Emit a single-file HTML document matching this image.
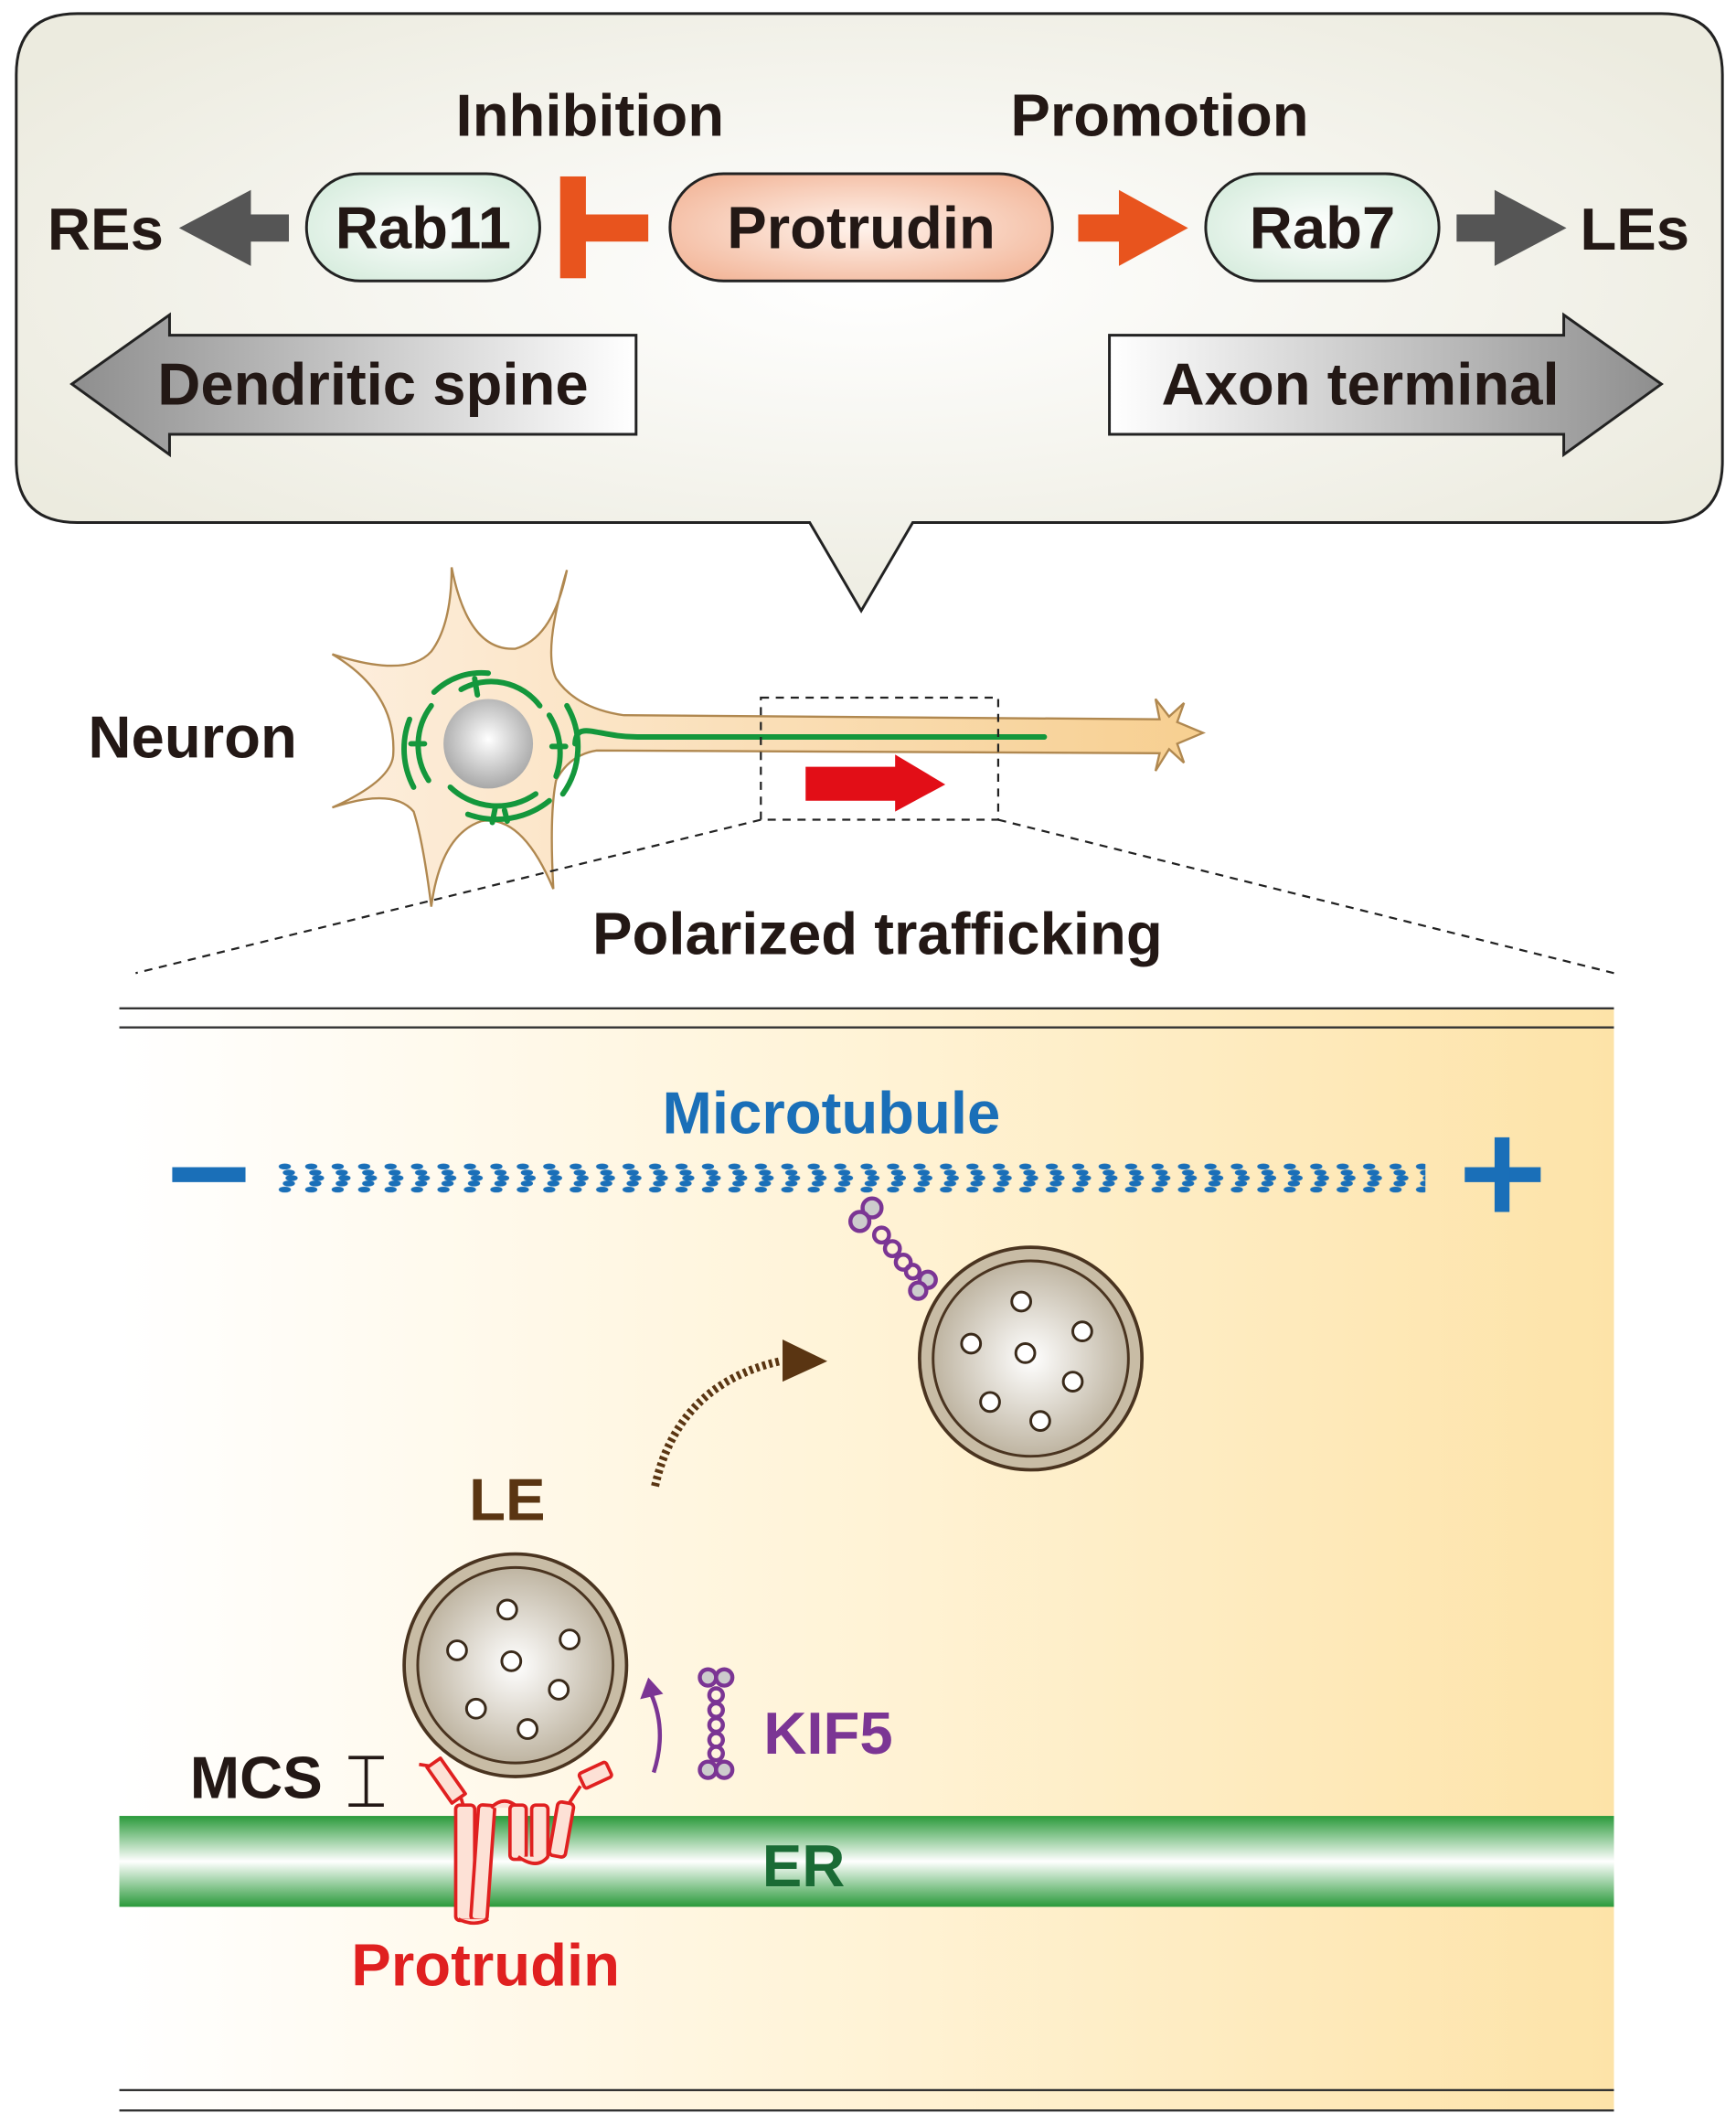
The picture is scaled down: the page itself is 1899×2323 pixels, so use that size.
<!DOCTYPE html>
<html><head><meta charset="utf-8"><style>html,body{margin:0;padding:0;background:#fff}svg{display:block}</style></head><body>
<svg width="1899" height="2323" viewBox="0 0 1280 1565" preserveAspectRatio="none" xmlns="http://www.w3.org/2000/svg" font-family="Liberation Sans, Arial, sans-serif" font-weight="bold">
<defs>
<radialGradient id="bg1" cx="0.5" cy="0.45" r="0.6"><stop offset="0" stop-color="#ffffff"/><stop offset="1" stop-color="#ecebdf"/></radialGradient>
<radialGradient id="gp" cx="0.5" cy="0.5" r="0.6"><stop offset="0" stop-color="#ffffff"/><stop offset="1" stop-color="#d6ecdd"/></radialGradient>
<radialGradient id="pp" cx="0.5" cy="0.5" r="0.6"><stop offset="0" stop-color="#fff3ec"/><stop offset="1" stop-color="#f3b89c"/></radialGradient>
<linearGradient id="ga" x1="0" x2="1"><stop offset="0" stop-color="#8e8e8e"/><stop offset="1" stop-color="#ffffff"/></linearGradient>
<linearGradient id="gb" x1="1" x2="0"><stop offset="0" stop-color="#8e8e8e"/><stop offset="1" stop-color="#ffffff"/></linearGradient>
<linearGradient id="cyt" x1="0" x2="1"><stop offset="0" stop-color="#ffffff"/><stop offset="0.5" stop-color="#fff3d6"/><stop offset="1" stop-color="#fde3a8"/></linearGradient>
<linearGradient id="er" x1="0" y1="0" x2="0" y2="1"><stop offset="0" stop-color="#2a9a3a"/><stop offset="0.5" stop-color="#ffffff"/><stop offset="1" stop-color="#2a9a3a"/></linearGradient>
<radialGradient id="ves" cx="0.5" cy="0.5" r="0.55"><stop offset="0" stop-color="#ffffff"/><stop offset="1" stop-color="#b8ad98"/></radialGradient>
<radialGradient id="nuc" cx="0.5" cy="0.45" r="0.55"><stop offset="0" stop-color="#ffffff"/><stop offset="1" stop-color="#a8a8a8"/></radialGradient>
<linearGradient id="axon" x1="0" x2="1"><stop offset="0" stop-color="#fdeedd"/><stop offset="1" stop-color="#f7cf90"/></linearGradient>
<pattern id="mt" x="205" y="857" width="19.5" height="22" patternUnits="userSpaceOnUse">
<g fill="#1a6fb8"><ellipse cx="5" cy="2.5" rx="4.5" ry="2.2"/><ellipse cx="8" cy="7" rx="4.5" ry="2.2"/><ellipse cx="10" cy="11" rx="4.5" ry="2.2"/><ellipse cx="8" cy="15" rx="4.5" ry="2.2"/><ellipse cx="5" cy="19.5" rx="4.5" ry="2.2"/></g>
</pattern>
</defs>

<path d="M57,10 H1225 Q1270,10 1270,55 V340 Q1270,385 1225,385 H673 L635,450 L597,385 H57 Q12,385 12,340 V55 Q12,10 57,10 Z" fill="url(#bg1)" stroke="#222" stroke-width="2"/>
<text x="435" y="100" font-size="44" text-anchor="middle" fill="#231815">Inhibition</text>
<text x="855" y="100" font-size="44" text-anchor="middle" fill="#231815">Promotion</text>
<text x="35" y="184" font-size="44" fill="#231815">REs</text>
<text x="1165" y="184" font-size="44" fill="#231815">LEs</text>
<polygon points="213,158 185,158 185,140 132,168 185,196 185,178 213,178" fill="#555"/>
<polygon points="1074,158 1102,158 1102,140 1155,168 1102,196 1102,178 1074,178" fill="#555"/>
<polygon points="795,158 825,158 825,140 876,168 825,196 825,178 795,178" fill="#e8541e"/>
<rect x="413" y="130" width="19" height="75" fill="#e8541e"/><rect x="430" y="158" width="48" height="20" fill="#e8541e"/>
<rect x="226" y="128" width="172" height="79" rx="39.5" fill="url(#gp)" stroke="#222" stroke-width="2"/>
<text x="312" y="183" font-size="44" text-anchor="middle" fill="#231815">Rab11</text>
<rect x="494" y="128" width="282" height="79" rx="39.5" fill="url(#pp)" stroke="#222" stroke-width="2"/>
<text x="635" y="183" font-size="44" text-anchor="middle" fill="#231815">Protrudin</text>
<rect x="889" y="128" width="172" height="79" rx="39.5" fill="url(#gp)" stroke="#222" stroke-width="2"/>
<text x="975" y="183" font-size="44" text-anchor="middle" fill="#231815">Rab7</text>
<polygon points="469,247 125,247 125,232 53,283 125,335 125,320 469,320" fill="url(#ga)" stroke="#222" stroke-width="2"/>
<text x="275" y="298" font-size="44" text-anchor="middle" fill="#231815">Dendritic spine</text>
<polygon points="818,247 1153,247 1153,232 1225,283 1153,335 1153,320 818,320" fill="url(#gb)" stroke="#222" stroke-width="2"/>
<text x="1003" y="298" font-size="44" text-anchor="middle" fill="#231815">Axon terminal</text>

<text x="65" y="558" font-size="44" fill="#231815">Neuron</text>
<path d="M333,418 Q345,480 380,478 Q408,470 418,420 Q400,480 410,500 Q425,522 460,527 L855,530 L852,515 L862,528 L873,518 L868,532 L887,540 L868,548 L873,562 L862,552 L852,568 L855,555 L440,553 Q420,556 410,575 Q405,600 408,655 Q385,600 355,605 Q325,615 318,668 Q312,620 305,598 Q290,580 245,595 Q290,575 290,555 Q292,510 245,482 Q300,500 318,480 Q333,460 333,418 Z" fill="url(#axon)" stroke="#b08850" stroke-width="1.6"/>
<circle cx="360" cy="548" r="33" fill="url(#nuc)"/>
<g fill="none" stroke="#14973c" stroke-width="4" stroke-linecap="round">
<path d="M424,548 C425,530 440,543 470,543 L770,543"/>
<path d="M340,508 A45,45 0 0,1 398,520"/><path d="M320,510 A50,50 0 0,1 360,496"/>
<path d="M318,520 A48,48 0 0,0 316,575"/><path d="M302,530 A60,60 0 0,0 305,580"/>
<path d="M405,527 A52,52 0 0,1 410,572"/><path d="M418,520 A60,60 0 0,1 415,585"/>
<path d="M332,580 A50,50 0 0,0 395,585"/><path d="M345,600 A62,62 0 0,0 405,590"/>
<path d="M350,500 L352,512 M313,548 L303,548 M407,550 L417,550 M372,597 L374,605 M365,596 L363,606"/>
</g>
<rect x="561" y="514" width="175" height="90" fill="none" stroke="#222" stroke-width="1.5" stroke-dasharray="6,5"/>
<polygon points="594,565 660,565 660,556 697,578 660,598 660,590 594,590" fill="#e20e17"/>
<path d="M561,604 L100,717 M736,604 L1190,717" stroke="#222" stroke-width="1.5" stroke-dasharray="6,5"/>
<text x="647" y="703" font-size="44" text-anchor="middle" fill="#231815">Polarized trafficking</text>

<rect x="88" y="743" width="1102" height="812" fill="url(#cyt)"/>
<path d="M88,743 H1190 M88,757 H1190 M88,1540 H1190 M88,1555 H1190" stroke="#333" stroke-width="1.6"/>
<text x="613" y="835" font-size="44" text-anchor="middle" fill="#1a6fb8">Microtubule</text>
<rect x="127" y="860" width="54" height="11" fill="#1a6fb8"/>
<rect x="1080" y="860" width="56" height="11" fill="#1a6fb8"/><rect x="1102" y="838" width="11" height="55" fill="#1a6fb8"/>
<rect x="205" y="857" width="846" height="22" fill="url(#mt)"/>

<circle cx="760" cy="1001" r="82" fill="#c8bca5" stroke="#4a3420" stroke-width="2.5"/>
<circle cx="760" cy="1001" r="72" fill="url(#ves)" stroke="#4a3420" stroke-width="2"/>
<g fill="#fff" stroke="#3a2a1a" stroke-width="2"><circle cx="753" cy="959" r="7"/><circle cx="716" cy="990" r="7"/><circle cx="798" cy="981" r="7"/><circle cx="756" cy="997" r="7"/><circle cx="791" cy="1018" r="7"/><circle cx="730" cy="1033" r="7"/><circle cx="767" cy="1047" r="7"/></g>
<g fill="#ccc" stroke="#7b3594" stroke-width="3"><circle cx="643" cy="890" r="7"/><circle cx="634" cy="900" r="7"/><circle cx="684" cy="943" r="6"/><circle cx="677" cy="951" r="6"/></g>
<g fill="none" stroke="#7b3594" stroke-width="3"><circle cx="650" cy="910" r="5.5"/><circle cx="658" cy="920" r="5.5"/><circle cx="666" cy="930" r="5.5"/><circle cx="673" cy="937" r="5"/></g>

<path d="M483,1095 Q500,1020 575,1003" fill="none" stroke="#5a3512" stroke-width="6" stroke-dasharray="2.5,2.5"/>
<polygon points="577,987 610,1003 577,1018" fill="#5a3512"/>
<text x="374" y="1120" font-size="44" text-anchor="middle" fill="#5a3512">LE</text>

<circle cx="380" cy="1227" r="82" fill="#c8bca5" stroke="#4a3420" stroke-width="2.5"/>
<circle cx="380" cy="1227" r="72" fill="url(#ves)" stroke="#4a3420" stroke-width="2"/>
<g fill="#fff" stroke="#3a2a1a" stroke-width="2"><circle cx="374" cy="1186" r="7"/><circle cx="337" cy="1216" r="7"/><circle cx="420" cy="1208" r="7"/><circle cx="377" cy="1224" r="7"/><circle cx="412" cy="1245" r="7"/><circle cx="351" cy="1259" r="7"/><circle cx="389" cy="1274" r="7"/></g>

<path d="M482,1306 Q492,1275 480,1248" fill="none" stroke="#7b3594" stroke-width="3"/>
<polygon points="472,1252 478,1236 489,1248" fill="#7b3594"/>
<g fill="#ccc" stroke="#7b3594" stroke-width="3"><circle cx="522" cy="1236" r="6"/><circle cx="534" cy="1236" r="6"/><circle cx="522" cy="1304" r="6"/><circle cx="534" cy="1304" r="6"/></g>
<g fill="none" stroke="#7b3594" stroke-width="3"><circle cx="528" cy="1249" r="5"/><circle cx="528" cy="1260" r="5"/><circle cx="528" cy="1271" r="5"/><circle cx="528" cy="1282" r="5"/><circle cx="528" cy="1292" r="5"/></g>
<text x="563" y="1292" font-size="44" fill="#7b3594">KIF5</text>

<text x="140" y="1325" font-size="44" fill="#231815">MCS</text>
<path d="M257,1295 H283 M270,1295 V1330 M257,1330 H283" stroke="#231815" stroke-width="2.5" fill="none"/>

<rect x="88" y="1338" width="1102" height="67" fill="url(#er)"/>
<text x="562" y="1390" font-size="44" fill="#1a6b35">ER</text>

<g fill="#fde1d6" stroke="#e02020" stroke-width="2.5" stroke-linejoin="round">
<path d="M309,1300 L328,1303"/>
<rect x="323" y="1296" width="12" height="32" transform="rotate(-35 329 1312)"/>
<path d="M340,1325 L343,1335"/>
<rect x="336" y="1330" width="14" height="85" rx="3"/>
<rect x="350" y="1330" width="12" height="85" rx="3" transform="rotate(4 356 1372)"/>
<path d="M338,1414 Q350,1420 360,1414"/>
<path d="M362,1332 Q372,1322 382,1332"/>
<rect x="376" y="1330" width="12" height="40" rx="3"/>
<rect x="392" y="1330" width="12" height="40" rx="3"/>
<path d="M382,1368 Q396,1378 404,1368"/>
<rect x="408" y="1328" width="12" height="40" rx="3" transform="rotate(10 414 1348)"/>
<rect x="428" y="1302" width="22" height="12" rx="2" transform="rotate(-25 439 1308)"/>
<path d="M420,1328 L428,1316"/>
</g>
<text x="358" y="1463" font-size="44" text-anchor="middle" fill="#e02020">Protrudin</text>
</svg>
</body></html>
